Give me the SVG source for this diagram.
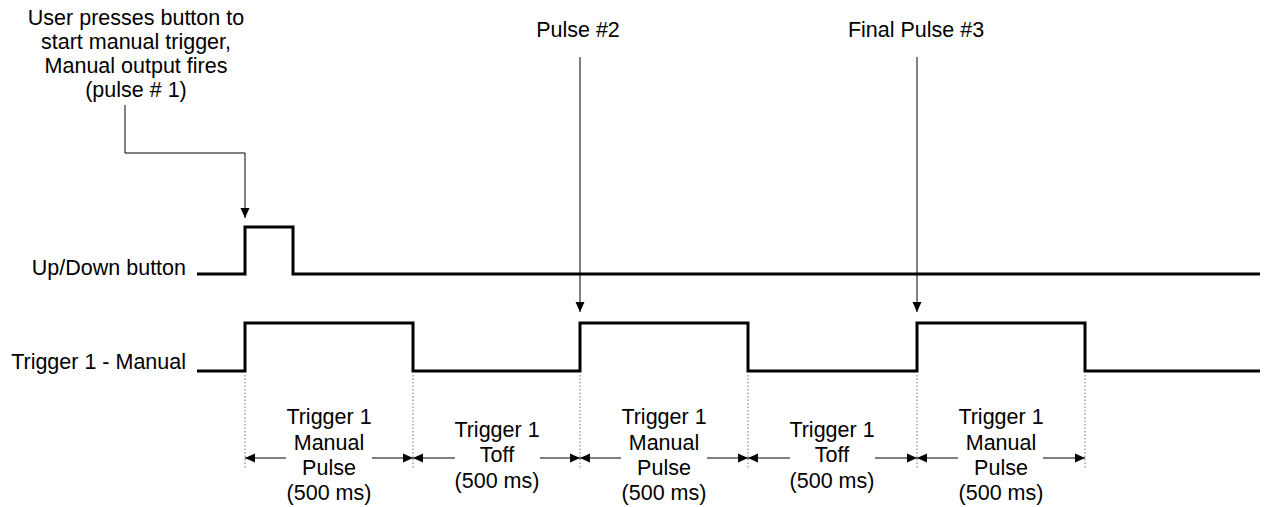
<svg xmlns="http://www.w3.org/2000/svg" width="1269" height="507" viewBox="0 0 1269 507">
<defs>
<marker id="ah" markerWidth="10" markerHeight="10" refX="10" refY="5" orient="auto" markerUnits="userSpaceOnUse">
<path d="M0,0.5 L10,5 L0,9.5 Z" fill="#000"/>
</marker>
</defs>
<style>
text{font-family:"Liberation Sans",Arial,sans-serif;font-size:21.5px;fill:#000}
.c{text-anchor:middle}
.r{text-anchor:end}
.wave{fill:none;stroke:#000;stroke-width:3;stroke-linejoin:miter}
.conn{fill:none;stroke:#000;stroke-width:1}
.dot{fill:none;stroke:#777;stroke-width:1;stroke-dasharray:1.5 2}
</style>
<rect width="1269" height="507" fill="#fff"/>
<g id="label-user">
<text class="c" x="136" y="25">User presses button to</text>
<text class="c" x="136" y="49">start manual trigger,</text>
<text class="c" x="136" y="73">Manual output fires</text>
<text class="c" x="136" y="97">(pulse # 1)</text>
</g>
<g id="label-pulse2"><text class="c" x="578" y="37">Pulse #2</text></g>
<g id="label-pulse3"><text class="c" x="916" y="37">Final Pulse #3</text></g>
<g id="updown">
<text class="r" x="186" y="275">Up/Down button</text>
<path class="wave" d="M197,274 H245 V227 H293 V274 H1260"/>
</g>
<g id="trigger">
<text class="r" x="186" y="369">Trigger 1 - Manual</text>
<path class="wave" d="M197,371 H245 V323 H413 V371 H580 V323 H748 V371 H917 V323 H1085 V371 H1260"/>
</g>
<g id="guides">
<path class="dot" d="M245,375 V468 M413,375 V468 M580,375 V468 M748,375 V468 M917,375 V468 M1085,375 V468"/>
</g>
<g id="connectors">
<path class="conn" d="M125,105 V153 H245 V218" marker-end="url(#ah)"/>
<path class="conn" d="M580,57 V312" marker-end="url(#ah)"/>
<path class="conn" d="M917,57 V312" marker-end="url(#ah)"/>
<path class="conn" d="M286,458 H245" marker-end="url(#ah)"/>
<path class="conn" d="M372,458 H413" marker-end="url(#ah)"/>
<path class="conn" d="M455,458 H413" marker-end="url(#ah)"/>
<path class="conn" d="M540,458 H580" marker-end="url(#ah)"/>
<path class="conn" d="M621,458 H580" marker-end="url(#ah)"/>
<path class="conn" d="M707,458 H748" marker-end="url(#ah)"/>
<path class="conn" d="M790,458 H748" marker-end="url(#ah)"/>
<path class="conn" d="M875,458 H917" marker-end="url(#ah)"/>
<path class="conn" d="M958,458 H917" marker-end="url(#ah)"/>
<path class="conn" d="M1043,458 H1085" marker-end="url(#ah)"/>
</g>
<g id="dim1">
<text class="c" x="329" y="424">Trigger 1</text>
<text class="c" x="329" y="450">Manual</text>
<text class="c" x="329" y="475">Pulse</text>
<text class="c" x="329" y="500">(500 ms)</text>
</g>
<g id="dim2">
<text class="c" x="497" y="437">Trigger 1</text>
<text class="c" x="497" y="462">Toff</text>
<text class="c" x="497" y="488">(500 ms)</text>
</g>
<g id="dim3">
<text class="c" x="664" y="424">Trigger 1</text>
<text class="c" x="664" y="450">Manual</text>
<text class="c" x="664" y="475">Pulse</text>
<text class="c" x="664" y="500">(500 ms)</text>
</g>
<g id="dim4">
<text class="c" x="832" y="437">Trigger 1</text>
<text class="c" x="832" y="462">Toff</text>
<text class="c" x="832" y="488">(500 ms)</text>
</g>
<g id="dim5">
<text class="c" x="1001" y="424">Trigger 1</text>
<text class="c" x="1001" y="450">Manual</text>
<text class="c" x="1001" y="475">Pulse</text>
<text class="c" x="1001" y="500">(500 ms)</text>
</g>
</svg>
